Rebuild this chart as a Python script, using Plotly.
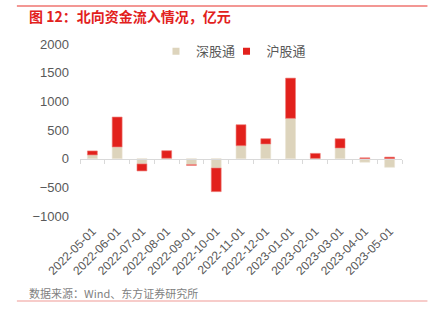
import plotly.graph_objects as go

dates = ["2022-05-01", "2022-06-01", "2022-07-01", "2022-08-01", "2022-09-01",
         "2022-10-01", "2022-11-01", "2022-12-01", "2023-01-01", "2023-02-01",
         "2023-03-01", "2023-04-01", "2023-05-01"]
shen = [65, 204, -92, 8, -105, -163, 226, 256, 703, 5, 186, -62, -150]
hu = [70, 522, -122, 131, -12, -412, 366, 92, 702, 87, 162, 15, 27]

y_min, y_max = -1000, 2000
y_ticks = [-1000, -500, 0, 500, 1000, 1500, 2000]

RED = "#E2211C"
TAN = "#DDD4BC"
GRAY = "#595959"
FONT = "Noto Sans CJK SC"
NUM_FONT = "Liberation Sans"

fig = go.Figure()
fig.add_trace(go.Bar(x=dates, y=shen, name="深股通", showlegend=False,
                     marker=dict(color=TAN, line=dict(color="#EAE3D2", width=0.6))))
fig.add_trace(go.Bar(x=dates, y=hu, name="沪股通", showlegend=False,
                     marker=dict(color=RED, line=dict(color="#EE7A76", width=0.6))))
# legend entries with small square swatches
fig.add_trace(go.Scatter(x=[None], y=[None], mode="markers", name="深股通",
                         legend="legend",
                         marker=dict(symbol="square", size=7, color=TAN)))
fig.add_trace(go.Scatter(x=[None], y=[None], mode="markers", name="沪股通",
                         legend="legend2",
                         marker=dict(symbol="square", size=7, color=RED)))
# invisible carrier trace for the zero-line axis
fig.add_trace(go.Scatter(x=dates, y=[None] * len(dates), xaxis="x2",
                         showlegend=False, hoverinfo="skip"))

zero_pos = (0 - y_min) / (y_max - y_min)
leg_common = dict(orientation="h", xanchor="left", y=1.045, yanchor="top",
                  font=dict(size=13, color=GRAY, family=FONT),
                  itemwidth=30, bgcolor="rgba(0,0,0,0)")

fig.update_layout(
    width=432, height=330,
    margin=dict(l=80, r=30, t=44, b=114),
    paper_bgcolor="white", plot_bgcolor="white",
    barmode="relative", bargap=0.6,
    font=dict(family=FONT, color=GRAY, size=12),
    showlegend=True,
    legend=dict(x=0.236, **leg_common),
    legend2=dict(x=0.455, **leg_common),
    xaxis=dict(type="category", categoryorder="array", categoryarray=dates,
               range=[-0.5, len(dates) - 0.5],
               showline=False, ticks="", showgrid=False, zeroline=False,
               tickangle=-45, ticklabelstandoff=5,
               tickfont=dict(size=12, color=GRAY, family=NUM_FONT)),
    xaxis2=dict(type="category", categoryorder="array", categoryarray=dates,
                range=[-0.5, len(dates) - 0.5], overlaying="x",
                anchor="free", position=zero_pos,
                showline=True, linecolor="#D9D9D9", linewidth=1,
                ticks="outside", tickson="boundaries", ticklen=4, tickcolor="#D9D9D9",
                showticklabels=False, showgrid=False, zeroline=False),
    yaxis=dict(range=[y_min, y_max], tickvals=y_ticks, showgrid=False,
               zeroline=False, showline=False, ticks="", ticklabelstandoff=10,
               tickfont=dict(size=13, color=GRAY, family=NUM_FONT)),
)

fig.add_shape(type="line", xref="paper", yref="paper", x0=-0.196, x1=1.079,
              y0=1.0 + 38 / 172, y1=1.0 + 38 / 172, line=dict(color="#E8302A", width=1.2))
fig.add_annotation(text="<b>图 12：北向资金流入情况，亿元</b>", xref="paper", yref="paper",
                   x=-0.164, y=1.0 + 28 / 172, xanchor="left", yanchor="middle",
                   showarrow=False, font=dict(size=14, color="#E2211C", family=FONT))
fig.add_annotation(text="数据来源：Wind、东方证券研究所", xref="paper", yref="paper",
                   x=-0.164, y=-(293 - 216) / 172, xanchor="left", yanchor="middle",
                   showarrow=False, font=dict(size=11, color="#7F7F7F", family=FONT))
fig.add_shape(type="line", xref="paper", yref="paper", x0=-0.196, x1=1.079,
              y0=-(301 - 216) / 172, y1=-(301 - 216) / 172,
              line=dict(color="#F09A96", width=1.2))

fig.write_html("out.html")
